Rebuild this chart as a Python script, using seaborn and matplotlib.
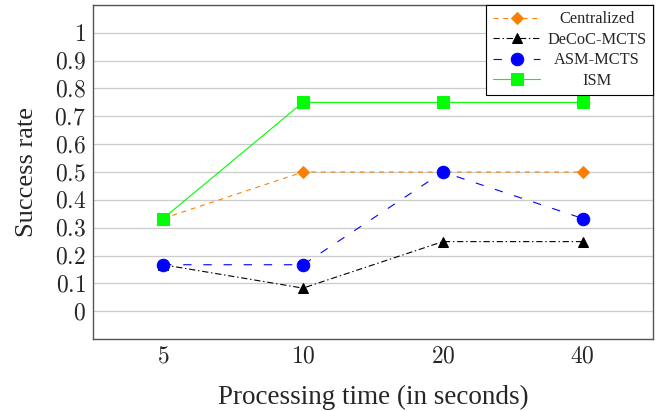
import matplotlib
matplotlib.use('Agg')
import matplotlib.pyplot as plt
import seaborn as sns
from matplotlib.ticker import FuncFormatter, MultipleLocator

sns.set_theme(style='white')
plt.rcParams['font.family'] = ['Liberation Serif', 'DejaVu Serif']
plt.rcParams['mathtext.fontset'] = 'cm'
plt.rcParams['lines.scale_dashes'] = False

time_labels = ['5', '10', '20', '40']
centralized = [0.333, 0.5, 0.5, 0.5]
decoc_mcts = [0.167, 0.083, 0.25, 0.25]
asm_mcts = [0.167, 0.167, 0.5, 0.333]
ism = [0.333, 0.75, 0.75, 0.75]

fig = plt.figure(figsize=(6.56, 4.11), dpi=100)
ax = fig.add_axes([0.142, 0.175, 0.853, 0.813])

ax.yaxis.grid(True, color='#cccccc', linewidth=0.9)
ax.set_axisbelow(True)

sns.lineplot(x=time_labels, y=centralized, ax=ax, color='#ff8000', linewidth=0.8,
             linestyle=(0, (3.5, 3.5)), marker='D', markersize=6.5,
             markeredgecolor='#ff8000', label='Centralized', sort=False)
sns.lineplot(x=time_labels, y=decoc_mcts, ax=ax, color='black', linewidth=0.8,
             linestyle=(0, (4.5, 2, 1, 2)), marker='^', markersize=7.5,
             markeredgecolor='black', label='DeCoC-MCTS', sort=False)
sns.lineplot(x=time_labels, y=asm_mcts, ax=ax, color='#0000ff', linewidth=0.8,
             linestyle=(0, (6, 8.5)), marker='o', markersize=9,
             markeredgecolor='#0000ff', label='ASM-MCTS', sort=False)
sns.lineplot(x=time_labels, y=ism, ax=ax, color='#00ff00', linewidth=0.8,
             linestyle='-', marker='s', markersize=8,
             markeredgecolor='#00ff00', label='ISM', sort=False)

ax.set_xlim(-0.5, 3.5)
ax.set_ylim(-0.1, 1.1)
ax.yaxis.set_major_locator(MultipleLocator(0.1))
ax.yaxis.set_major_formatter(FuncFormatter(
    lambda v, p: '' if v < -0.05 or v > 1.05 else ('$%g$' % round(v, 1))))
ax.xaxis.set_major_formatter(FuncFormatter(
    lambda v, p: '$%s$' % time_labels[int(round(v))] if 0 <= round(v) < len(time_labels) else ''))

ax.tick_params(axis='both', labelsize=17, direction='in', length=3, width=0.6,
               color='#444444', pad=5)
ax.tick_params(axis='x', top=False)
for s in ax.spines.values():
    s.set_color('#555555')
    s.set_linewidth(1.0)

ax.set_xlabel('Processing time (in seconds)', fontsize=19.5, labelpad=13)
ax.set_ylabel('Success rate', fontsize=19, labelpad=12)

leg = ax.legend(loc='upper right', fontsize=11.8, frameon=True, fancybox=False,
                edgecolor='black', framealpha=1, borderaxespad=0.0,
                handlelength=2.9, handletextpad=0.4, labelspacing=0.27,
                borderpad=0.4)
leg.get_frame().set_linewidth(0.8)

# center the legend labels inside their column, like pgfplots does
fig.canvas.draw()
renderer = fig.canvas.get_renderer()
texts = leg.get_texts()
widths = [t.get_window_extent(renderer).width for t in texts]
wmax = max(widths)
for t, w in zip(texts, widths):
    t.set_x((wmax - w) / 2)

fig.savefig('out.png', dpi=100)
